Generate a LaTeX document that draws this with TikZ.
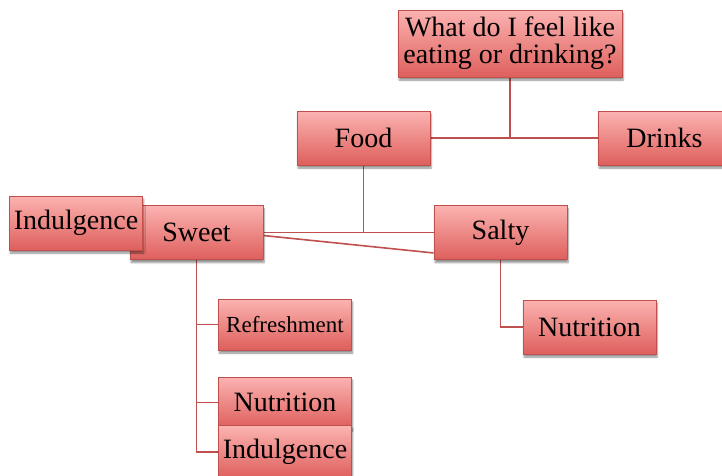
\documentclass[tikz,border=0pt]{standalone}
\usepackage{fontspec}
\setmainfont{Liberation Serif}
\usetikzlibrary{shadows.blur,calc,backgrounds}
\definecolor{boxtop}{HTML}{FBB3B1}
\definecolor{boxbot}{HTML}{DE5F5C}
\definecolor{boxline}{HTML}{C0504D}
\tikzset{
  box/.style={draw=boxline, line width=0.9pt, top color=boxtop, bottom color=boxbot,
    minimum width=133pt, minimum height=54pt, inner sep=1pt, align=center,
    font=\fontsize{28}{27}\selectfont,
    blur shadow={shadow blur steps=6, shadow xshift=1pt, shadow yshift=-3pt, shadow opacity=45}},
  smallbox/.style={box, minimum height=51pt, font=\fontsize{23}{24}\selectfont},
  conn/.style={draw=boxline, line width=1.6pt}
}
\begin{document}
\begin{tikzpicture}[x=1pt,y=-1pt]
\useasboundingbox (0,0) rectangle (722,475);
% nodes
\node[box, minimum width=224pt, minimum height=67pt] (top) at (510,43.5) {What do I feel like\\eating or drinking?};
\node[box] (food) at (363.5,138) {Food};
\node[box] (drinks) at (664.5,138) {Drinks};
\node[box] (sweet) at (196.5,232.5) {Sweet};
\node[box] (salty) at (500.5,232.5) {Salty};
\node[box] (indl) at (76,223) {Indulgence};
\node[smallbox] (refr) at (285,324.5) {Refreshment};
\node[box] (nutr1) at (589.5,327) {Nutrition};
\node[box, minimum height=51pt] (nutr2) at (285,402.5) {Nutrition};
\node[box, minimum height=53pt] (indl2) at (285,452) {Indulgence};
% connectors (behind)
\begin{scope}[on background layer]
\draw[conn] (top.south) -- (top.south |- food.east);
\draw[conn] (food.east) -- (drinks.west);
\draw[conn] (food.south) -- (food.south |- sweet.east);
\draw[conn] (sweet.east) -- (salty.west);
\draw[conn] ($(sweet.east)+(0,3)$) -- ($(salty.south west)+(0,-7)$);
\draw[conn] (sweet.south) |- (refr.west);
\draw[conn] (sweet.south) |- (nutr2.west);
\draw[conn] (sweet.south) |- (indl2.west);
\draw[conn] (salty.south) |- (nutr1.west);
\end{scope}
\end{tikzpicture}
\end{document}
